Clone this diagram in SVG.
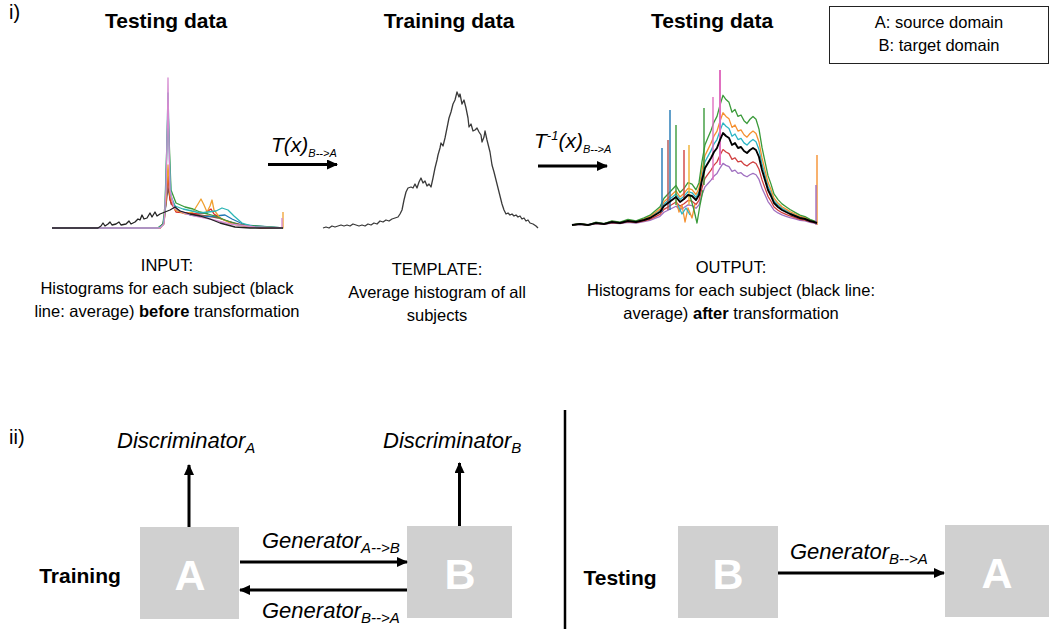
<svg xmlns="http://www.w3.org/2000/svg" xmlns:xlink="http://www.w3.org/1999/xlink" width="1051" height="629" viewBox="0 0 1051 629">
  <style>
    .t{font-family:"Liberation Sans",Arial,sans-serif;fill:#000}
    .title{font-weight:bold;font-size:21px;text-anchor:middle}
    .cap{font-size:16.5px;text-anchor:middle}
    .num{font-size:20px}
    .lbl{font-style:italic;font-size:22px}
    .sub{font-size:15px}
    .box{fill:#d0d0d0}
    .letter{font-weight:bold;font-size:43px;fill:#fff;text-anchor:middle}
    .conn{stroke:#000;stroke-width:3;fill:none;marker-end:url(#head)}
    .h{fill:none;stroke-width:1.3;stroke-linejoin:round}
    .spike{stroke-width:1.4}
  </style>
  <defs>
    <marker id="head" markerUnits="userSpaceOnUse" markerWidth="11" markerHeight="10" refX="10" refY="5" orient="auto">
      <path d="M0,0 L11,5 L0,10 z" fill="#000"/>
    </marker>
    <!-- shared outline for the stacked subject curves of the output histogram -->
    <path id="outCurve" vector-effect="non-scaling-stroke" d="M572,225 L580,224 L588,225 L596,223 L604,224 L612,222 L620,223 L628,221 L636,222 L644,220 L650,218 L655,215 L660,212 L664,206 L668,203 L672,200 L676,197 L680,202 L684,199 L688,195 L692,196 L696,200 L699,195 L702,180 L705,168 L708,163 L711,158 L714,152 L717,148 L720,140 L723,133 L726,136 L729,138 L732,145 L735,143 L738,148 L741,147 L744,151 L747,153 L750,150 L753,148 L756,150 L759,157 L762,170 L765,180 L768,190 L771,196 L774,203 L778,207 L782,210 L786,212 L790,214 L795,216 L800,218 L805,219 L810,221 L814,222 L817,223"/>
  </defs>

  <rect width="1051" height="629" fill="#fff"/>

  <!-- part i) -->
  <text class="t num" x="9" y="19">i)</text>
  <text class="t title" x="166" y="28">Testing data</text>
  <text class="t title" x="449" y="28">Training data</text>
  <text class="t title" x="712" y="28">Testing data</text>

  <g id="legend">
    <rect x="829.5" y="6.5" width="219" height="57" fill="#fff" stroke="#222" stroke-width="1"/>
    <text class="t cap" x="939" y="28">A: source domain</text>
    <text class="t cap" x="939" y="51">B: target domain</text>
  </g>

  <!-- input histograms, one curve per subject -->
  <g id="hist-input">
    <path class="h" stroke="#8c564b" d="M52,228 L158,228 L163,224 L166,205 L168,188 L171,204 L180,212 L195,215 L208,216 L218,218 L230,222 L250,227 L283,228"/>
    <path class="h" stroke="#1f77b4" d="M52,228 L160,228 L164,223 L167,190 L168,172 L170,196 L177,210 L190,215 L205,217 L215,216 L225,215 L232,219 L245,225 L283,228"/>
    <path class="h" stroke="#d62728" d="M52,228 L160,228 L164,222 L166,200 L168,175 L170,200 L176,212 L188,213 L198,214 L205,213 L211,209 L214,214 L222,219 L235,224 L260,228 L283,228"/>
    <path class="h" stroke="#f0a030" d="M52,228 L160,228 L164,224 L166,200 L168,165 L170,195 L175,210 L185,214 L193,212 L198,204 L201,199 L204,205 L207,212 L210,206 L212,200 L214,210 L220,218 L232,224 L250,227 L283,228 L283,212"/>
    <path class="h" stroke="#3a9a3a" d="M52,228 L158,228 L163,224 L165,205 L167,140 L168,108 L169.5,150 L171,190 L176,203 L185,207 L193,209 L200,212 L208,214 L215,216 L225,220 L240,225 L283,228"/>
    <path class="h" stroke="#2bb5b5" d="M52,228 L158,228 L163,225 L165,212 L166.5,160 L168,93 L169.5,160 L171,196 L175,206 L183,209 L192,211 L200,213 L208,212 L216,211 L222,208 L228,210 L234,216 L242,223 L255,227 L283,228"/>
    <path class="h" stroke="#d58ad0" d="M52,228 L160,228 L164,224 L166,190 L167.5,120 L168,78 L168.5,120 L170,190 L174,208 L184,213 L195,216 L210,219 L230,224 L255,227 L282,228 L282,218"/>
    <path class="h" stroke="#222" stroke-width="1.5" d="M52,228 L98,228 L101,226 L103,223 L105,226 L108,224 L110,222 L112,225 L116,224 L119,222 L121,225 L126,224 L129,221 L131,224 L135,222 L138,219 L140,220 L142,215 L144,219 L147,218 L150,213 L152,217 L155,212 L157,216 L160,214 L165,212 L170,210 L175,207 L180,211 L190,214 L200,216 L210,219 L220,223 L235,227 L250,228 L283,228"/>
  </g>

  <!-- average template histogram -->
  <g id="hist-template">
    <path class="h" stroke="#3a3a3a" stroke-width="1.8" d="M323,228 L326,227 L329,228 L332,226 L335,227 L338,226 L341,225 L344,226 L347,225 L350,226 L353,224 L356,225 L359,226 L362,225 L365,226 L368,224 L371,225 L374,223 L377,224 L380,221 L383,222 L386,220 L389,221 L392,219 L395,218 L398,217 L400,214 L402,210 L404,200 L406,192 L408,188 L411,187 L413,188 L415,184 L417,188 L419,182 L421,178 L423,183 L425,181 L427,186 L429,184 L431,187 L433,178 L435,168 L437,160 L438,155 L440,148 L441,143 L443,146 L445,138 L447,128 L449,118 L451,112 L453,104 L455,100 L457,92 L459,97 L460,94 L462,104 L464,100 L466,108 L468,118 L469,127 L471,124 L473,131 L475,130 L477,128 L479,132 L481,135 L482,142 L484,137 L485,131 L487,140 L489,148 L490,152 L492,165 L494,172 L496,180 L498,188 L500,196 L502,204 L504,210 L506,214 L508,213 L510,215 L512,214 L514,216 L516,215 L518,217 L520,216 L522,219 L524,218 L526,221 L528,220 L530,223 L533,224 L536,226 L538,228"/>
  </g>

  <!-- output histograms after transformation -->
  <g id="hist-output" class="h">
    <use xlink:href="#outCurve" stroke="#a070c0" transform="matrix(1,0,0,0.67,0,74.25)"/>
    <use xlink:href="#outCurve" stroke="#d04040" transform="matrix(1,0,0,0.82,0,40.5)"/>
    <use xlink:href="#outCurve" stroke="#2bb5c5" transform="matrix(1,0,0,1.11,0,-24.75)"/>
    <use xlink:href="#outCurve" stroke="#f59030" transform="matrix(1,0,0,1.22,0,-49.5)"/>
    <use xlink:href="#outCurve" stroke="#3a9a3a" transform="matrix(1,0,0,1.41,0,-92.25)"/>
    <path stroke="#f59030" d="M676,200 L679,212 L682,205 L685,222 L688,208 L692,218 L695,204"/>
    <path stroke="#3a9a3a" d="M690,196 L694,210 L697,223 L700,205 L703,190"/>
    <path stroke="#2bb5c5" d="M678,205 L682,214 L686,208 L690,215"/>
    <g class="spike">
      <line x1="662" y1="212" x2="662" y2="148" stroke="#1f77b4"/>
      <line x1="668" y1="210" x2="668" y2="140" stroke="#b05050"/>
      <line x1="670" y1="210" x2="670" y2="110" stroke="#1f77b4"/>
      <line x1="676" y1="205" x2="676" y2="125" stroke="#3a9a3a"/>
      <line x1="684" y1="200" x2="684" y2="150" stroke="#d04040"/>
      <line x1="689" y1="205" x2="689" y2="145" stroke="#f0b030"/>
      <line x1="704" y1="185" x2="704" y2="108" stroke="#3a9a3a"/>
      <line x1="713" y1="180" x2="713" y2="97" stroke="#e070c0"/>
      <line x1="720" y1="165" x2="720" y2="70" stroke="#e070c0" stroke-width="2"/>
      <line x1="817" y1="225" x2="817" y2="155" stroke="#f59030"/>
      <line x1="816" y1="225" x2="816" y2="185" stroke="#a070c0"/>
    </g>
    <use xlink:href="#outCurve" stroke="#000" stroke-width="1.9"/>
  </g>

  <text class="t cap" x="167" y="271">INPUT:</text>
  <text class="t cap" x="167" y="294">Histograms for each subject (black</text>
  <text class="t cap" x="167" y="317">line: average) <tspan font-weight="bold">before</tspan> transformation</text>

  <text class="t cap" x="437" y="275">TEMPLATE:</text>
  <text class="t cap" x="437" y="298">Average histogram of all</text>
  <text class="t cap" x="437" y="321">subjects</text>

  <text class="t cap" x="731" y="273">OUTPUT:</text>
  <text class="t cap" x="731" y="296">Histograms for each subject (black line:</text>
  <text class="t cap" x="731" y="319">average) <tspan font-weight="bold">after</tspan> transformation</text>

  <!-- transformation arrows -->
  <g id="map-forward">
    <text class="t" font-style="italic" font-size="21" x="271" y="152">T(x)<tspan font-size="11" dy="5">B--&gt;A</tspan></text>
  </g>
  <g id="map-inverse">
    <text class="t" font-style="italic" font-size="21" x="534" y="148">T<tspan font-size="13" dy="-8">-1</tspan><tspan dy="8">(x)</tspan><tspan font-size="11" dy="5">B--&gt;A</tspan></text>
  </g>

  <!-- part ii) -->
  <text class="t num" x="9" y="444">ii)</text>
  <text class="t title" x="80" y="583">Training</text>
  <text class="t title" x="620" y="585">Testing</text>

  <g id="train-A">
    <rect class="box" x="140" y="527" width="99" height="92"/>
    <text class="t letter" x="190" y="590">A</text>
  </g>
  <g id="train-B">
    <rect class="box" x="407" y="526" width="105" height="92"/>
    <text class="t letter" x="460" y="589">B</text>
  </g>
  <g id="test-B">
    <rect class="box" x="678" y="526" width="100" height="92"/>
    <text class="t letter" x="728" y="589">B</text>
  </g>
  <g id="test-A">
    <rect class="box" x="945" y="525" width="104" height="92"/>
    <text class="t letter" x="997" y="588">A</text>
  </g>

  <g id="disc-A"><text class="t lbl" x="117" y="448">Discriminator<tspan class="sub" dy="5">A</tspan></text></g>
  <g id="disc-B"><text class="t lbl" x="383" y="448">Discriminator<tspan class="sub" dy="5">B</tspan></text></g>

  <g id="connectors">
    <line class="conn" x1="189" y1="527" x2="189" y2="465"/>
    <line class="conn" x1="459.5" y1="526" x2="459.5" y2="463"/>
    <line class="conn" x1="240" y1="562" x2="407" y2="562"/>
    <line class="conn" x1="407" y1="590" x2="240" y2="590"/>
    <line class="conn" x1="778" y1="573" x2="944" y2="573"/>
    <line class="conn" x1="268" y1="164.5" x2="337" y2="164.5"/>
    <line class="conn" x1="538" y1="166" x2="607" y2="166"/>
    <text class="t lbl" x="262" y="548">Generator<tspan class="sub" dy="5">A--&gt;B</tspan></text>
    <text class="t lbl" x="262" y="618">Generator<tspan class="sub" dy="5">B--&gt;A</tspan></text>
    <text class="t lbl" x="790" y="559">Generator<tspan class="sub" dy="5">B--&gt;A</tspan></text>
  </g>

  <line x1="565" y1="410" x2="565" y2="629" stroke="#000" stroke-width="2.5"/>
</svg>
